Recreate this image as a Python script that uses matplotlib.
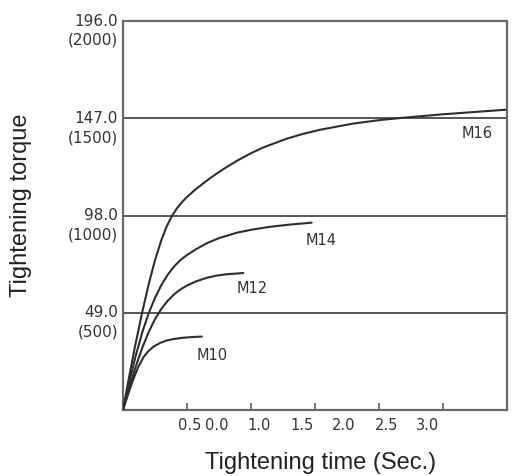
import matplotlib
matplotlib.use("Agg")
import matplotlib.pyplot as plt
import matplotlib.transforms as mtransforms

# ---------------- data ----------------
t_m10 = [0, 0.04, 0.08, 0.12, 0.16, 0.2, 0.24, 0.29, 0.34, 0.4, 0.47, 0.54, 0.615]
v_m10 = [0, 8, 15.4, 21.8, 26.6, 29.8, 32.0, 33.8, 35.0, 35.8, 36.4, 36.75, 37.0]

t_m12 = [0, 0.05, 0.1, 0.15, 0.2, 0.25, 0.3, 0.35, 0.4, 0.45, 0.5, 0.57,
         0.654, 0.73, 0.81, 0.94]
v_m12 = [0, 11.5, 22, 31.2, 39.2, 45.8, 51, 55.1, 58.3, 60.8, 62.7, 64.8,
         66.6, 67.7, 68.4, 69.0]

t_m14 = [0, 0.05, 0.1, 0.15, 0.2, 0.25, 0.3, 0.35, 0.4, 0.45, 0.5, 0.57,
         0.654, 0.75, 0.888, 1.0, 1.148, 1.3, 1.474]
v_m14 = [0, 14.5, 27.5, 39, 48.7, 56.5, 63, 68.2, 72.4, 75.6, 78.1, 81.0,
         84.0, 86.6, 89.3, 90.8, 92.3, 93.4, 94.4]

t_m16 = [0, 0.04, 0.09, 0.146, 0.2, 0.25, 0.3, 0.34, 0.38, 0.42, 0.46, 0.5,
         0.56, 0.625, 0.7, 0.78, 0.888, 1.0, 1.1, 1.279, 1.4, 1.539, 1.797,
         2.008, 2.164, 2.5, 2.99]
v_m16 = [0, 14, 30.8, 48.1, 63.2, 75.5, 85.7, 92.3, 97.5, 101.5, 104.7, 107.3,
         110.8, 114.1, 117.7, 121.2, 125.5, 129.4, 132.4, 136.7, 139.0, 141.2,
         144.3, 146.1, 147.1, 149.0, 151.3]

curve_names = ["M10", "M12", "M14", "M16"]

torque_nm = [49.0, 98.0, 147.0, 196.0]
torque_kgf = [500, 1000, 1500, 2000]

x_ticks = [0.5, 1.0, 1.5, 2.0, 2.5, 3.0]
x_tick_labels = ["0.5", "0.0", "1.0", "1.5", "2.0", "2.5", "3.0"]

# ---------------- layout ----------------
W, H = 512, 476
x_label_pos = [0.52, 0.73, 1.06, 1.40, 1.72, 2.06, 2.38]   # labels sit off the ticks
name_pos = [(0.70, 27.5), (1.01, 61), (1.55, 85.5), (2.77, 139.5)]

LINE = "#3a3a3a"
FRAME = "#6a6a6a"
TXT = "#333333"

fig = plt.figure(figsize=(W / 100, H / 100), dpi=100)
ax = fig.add_axes([123 / W, 1 - 410 / H, 384 / W, 389 / H])

for v in torque_nm[:-1]:
    ax.axhline(v, color=LINE, lw=1.2, zorder=2)

for t, v in [(t_m10, v_m10), (t_m12, v_m12), (t_m14, v_m14), (t_m16, v_m16)]:
    ax.plot(t, v, color="#2e2e2e", lw=1.5, solid_capstyle="round",
            solid_joinstyle="round", zorder=3)

for name, (tx, ty) in zip(curve_names, name_pos):
    ax.text(tx, ty, name, fontsize=10.5, color=TXT, ha="center", va="center",
            family="DejaVu Sans")

ax.set_xlim(0, 3.0)
ax.set_ylim(0, 196.0)

for s in ax.spines.values():
    s.set_color(FRAME)
    s.set_linewidth(1.6)

# major ticks: small inward marks, no labels
ax.set_xticks(x_ticks)
ax.tick_params(axis="x", which="major", direction="in", length=5, width=1.3,
               color=FRAME, labelbottom=False)
# labels sit on zero-length minor ticks
ax.set_xticks(x_label_pos, labels=x_tick_labels, minor=True)
ax.tick_params(axis="x", which="minor", length=0, pad=6, labelsize=10.5,
               labelcolor=TXT)
ax.set_yticks([])

# two-line torque labels on the left
trans = mtransforms.blended_transform_factory(ax.transAxes, ax.transData)
for nm, kgf in zip(torque_nm, torque_kgf):
    ax.text(-0.013, nm, f"{nm:.1f}", transform=trans, ha="right", va="center",
            fontsize=11, color=TXT, family="DejaVu Sans")
    ax.annotate(f"({kgf})", (-0.013, nm), xycoords=trans,
                textcoords="offset points", xytext=(0, -14), ha="right",
                va="center", fontsize=11, color=TXT, family="DejaVu Sans",
                annotation_clip=False)

fig.text(321 / W, 1 - 463 / H, "Tightening time (Sec.)", ha="center",
         va="center", fontsize=17, color="#222222", family="Liberation Sans")
fig.text(21 / W, 1 - 205 / H, "Tightening torque", ha="center", va="center",
         rotation=90, fontsize=17, color="#222222", family="Liberation Sans")

fig.savefig("out.png", dpi=100)
